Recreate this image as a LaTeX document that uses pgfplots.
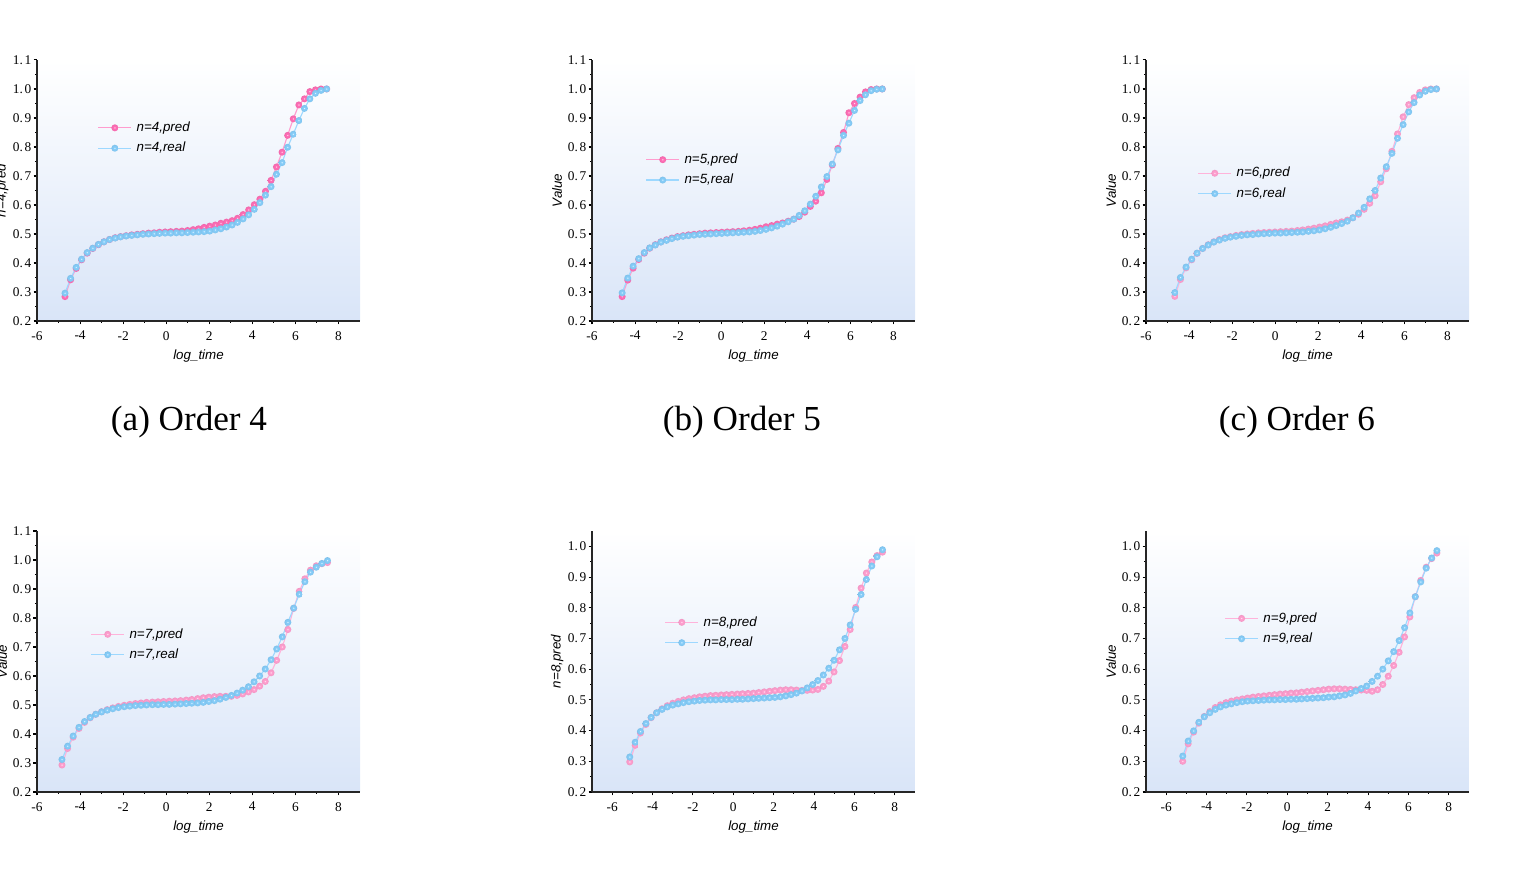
\documentclass[border=0pt]{standalone}
\usepackage{fontspec}
\setmainfont{Liberation Serif}
\newfontfamily\lsans{Liberation Sans}
\usepackage{pgfplots}
\usepackage{pgfplotstable}
\pgfplotsset{compat=1.18}
\definecolor{pinkA}{HTML}{FF6EB6}
\definecolor{pinkAl}{HTML}{FF9CCE}
\definecolor{pinkB}{HTML}{FF9FCF}
\definecolor{pinkBl}{HTML}{FFB3DA}
\definecolor{blueM}{HTML}{86CDF9}
\definecolor{blueL}{HTML}{9DD8FF}
\definecolor{bgblue}{HTML}{D9E5F8}

\newcommand\declball[2]{%
 \pgfdeclareradialshading{sh#1}{\pgfpoint{-3bp}{3bp}}{color(0bp)=(#2!20!white); color(2.5bp)=(#2!50!white); color(7bp)=(#2); color(20bp)=(#2!97!black); color(25bp)=(#2!93!black); color(50bp)=(#2!93!black)}%
 \pgfdeclareplotmark{#1}{\pgfpathcircle{\pgfpointorigin}{\pgfplotmarksize}\pgfshadepath{sh#1}{0}\pgfusepath{}}}
\declball{bpA}{pinkA}
\declball{bpB}{pinkB}
\declball{bbl}{blueM}

\newcommand\labfont{\lsans\itshape\fontsize{3.8}{4.5}\selectfont}

\pgfplotsset{
  panel/.style={
    scale only axis, width=32.3mm, height=26.1mm,
    anchor=south west,
    axis x line*=bottom, axis y line*=left,
    axis line style={line width=0.3pt, black!85},
    axis background/.style={top color=white, bottom color=bgblue},
    xmin=-6, xmax=9, ymin=0.2, ymax=1.1,
    xtick={-6,-4,-2,0,2,4,6,8}, minor x tick num=1,
    ytick={0.2,0.3,0.4,0.5,0.6,0.7,0.8,0.9,1.0,1.1}, minor y tick num=1,
    tick align=outside, major tick length=0.35mm, minor tick length=0.2mm,
    every tick/.style={line width=0.3pt, black},
    tick label style={font=\fontsize{3.8}{4.4}\selectfont},
    /pgf/number format/assume math mode=true,
    xticklabel style={inner sep=0.6mm},
    yticklabel style={inner sep=0.15mm, /pgf/number format/fixed, /pgf/number format/fixed zerofill, /pgf/number format/precision=1, /pgf/number format/dec sep={.\hspace{0.5pt}}},
    xlabel={log\_time},
    xlabel style={font=\labfont, at={(axis description cs:0.5,-0.134)}, anchor=center},
    ylabel={Value},
    ylabel style={font=\labfont, at={(axis description cs:-0.108,0.5)}, anchor=center},
    legend style={draw=none, fill=none, anchor=west, font=\labfont, inner sep=0pt, row sep=1.1pt, column sep=0.3mm,
      nodes={inner sep=0.5pt, text height=2.9pt, text depth=0.8pt}},
    legend cell align=left,
    legend image code/.code={\draw[mark repeat=2,mark phase=2,##1] plot coordinates {(0mm,0mm) (1.65mm,0mm) (3.3mm,0mm)};},
  },
  bottomrow/.style={xmin=-7, ymax=1.05, ytick={0.2,0.3,0.4,0.5,0.6,0.7,0.8,0.9,1.0}},
  predA/.style={color=pinkAl, line width=0.32pt, mark=bpA, mark size=1.0pt},
  predB/.style={color=pinkBl, line width=0.32pt, mark=bpB, mark size=1.0pt},
  real/.style={color=blueL, line width=0.32pt, mark=bbl, mark size=1.0pt},
}

\pgfplotstableread{
x pred real
-4.70 0.284 0.296
-4.44 0.342 0.347
-4.18 0.381 0.385
-3.93 0.411 0.413
-3.67 0.434 0.436
-3.41 0.450 0.451
-3.15 0.463 0.464
-2.89 0.473 0.473
-2.63 0.481 0.481
-2.37 0.487 0.486
-2.12 0.491 0.490
-1.86 0.494 0.493
-1.60 0.497 0.495
-1.34 0.499 0.497
-1.08 0.501 0.499
-0.82 0.503 0.500
-0.56 0.504 0.501
-0.31 0.506 0.502
-0.05 0.507 0.503
0.21 0.508 0.503
0.47 0.509 0.504
0.73 0.510 0.504
0.99 0.512 0.505
1.25 0.515 0.506
1.50 0.518 0.507
1.76 0.523 0.508
2.02 0.527 0.510
2.28 0.531 0.514
2.54 0.537 0.518
2.80 0.541 0.524
3.06 0.546 0.531
3.31 0.554 0.540
3.57 0.567 0.552
3.83 0.583 0.566
4.09 0.601 0.585
4.35 0.620 0.608
4.61 0.647 0.634
4.87 0.685 0.663
5.12 0.731 0.706
5.38 0.782 0.746
5.64 0.840 0.799
5.90 0.897 0.844
6.16 0.945 0.891
6.42 0.966 0.933
6.67 0.991 0.966
6.93 0.997 0.985
7.19 1.000 0.995
7.45 1.000 1.000
}\tabA

\pgfplotstableread{
x pred real
-4.60 0.284 0.297
-4.34 0.341 0.348
-4.09 0.382 0.389
-3.83 0.412 0.415
-3.57 0.434 0.436
-3.32 0.451 0.452
-3.06 0.463 0.462
-2.80 0.473 0.472
-2.54 0.480 0.478
-2.29 0.486 0.484
-2.03 0.491 0.489
-1.77 0.494 0.492
-1.52 0.497 0.494
-1.26 0.499 0.496
-1.00 0.501 0.498
-0.75 0.503 0.499
-0.49 0.504 0.500
-0.23 0.505 0.501
0.03 0.506 0.502
0.28 0.507 0.503
0.54 0.508 0.504
0.80 0.509 0.505
1.05 0.511 0.506
1.31 0.513 0.507
1.57 0.516 0.509
1.82 0.520 0.512
2.08 0.525 0.516
2.34 0.529 0.521
2.60 0.534 0.527
2.85 0.538 0.534
3.11 0.544 0.542
3.37 0.551 0.551
3.62 0.560 0.564
3.88 0.575 0.580
4.14 0.595 0.603
4.39 0.613 0.630
4.65 0.642 0.662
4.91 0.688 0.698
5.16 0.738 0.741
5.42 0.795 0.790
5.68 0.850 0.840
5.93 0.918 0.882
6.19 0.950 0.926
6.45 0.972 0.960
6.70 0.990 0.980
6.96 0.998 0.994
7.22 1.000 0.999
7.48 1.000 1.000
}\tabB

\pgfplotstableread{
x pred real
-4.66 0.285 0.298
-4.40 0.343 0.350
-4.14 0.383 0.386
-3.88 0.411 0.413
-3.63 0.433 0.434
-3.37 0.450 0.450
-3.11 0.463 0.462
-2.85 0.473 0.472
-2.59 0.481 0.479
-2.33 0.487 0.485
-2.08 0.491 0.489
-1.82 0.495 0.492
-1.56 0.498 0.495
-1.30 0.500 0.497
-1.04 0.502 0.498
-0.78 0.504 0.500
-0.52 0.505 0.501
-0.27 0.506 0.502
-0.01 0.507 0.503
0.25 0.508 0.503
0.51 0.509 0.504
0.77 0.510 0.505
1.03 0.512 0.506
1.28 0.514 0.507
1.54 0.517 0.509
1.80 0.520 0.511
2.06 0.524 0.514
2.32 0.528 0.518
2.58 0.533 0.523
2.83 0.538 0.529
3.09 0.542 0.536
3.35 0.548 0.544
3.61 0.556 0.556
3.87 0.568 0.572
4.13 0.585 0.592
4.39 0.606 0.621
4.64 0.632 0.650
4.90 0.680 0.693
5.16 0.725 0.732
5.42 0.785 0.778
5.68 0.845 0.830
5.94 0.904 0.877
6.20 0.946 0.921
6.45 0.970 0.953
6.71 0.988 0.979
6.97 0.997 0.992
7.23 1.000 0.998
7.49 1.000 1.000
}\tabC

\pgfplotstableread{
x pred real
-4.84 0.293 0.312
-4.58 0.350 0.358
-4.32 0.389 0.393
-4.05 0.419 0.423
-3.79 0.440 0.443
-3.53 0.456 0.457
-3.27 0.468 0.468
-3.00 0.477 0.476
-2.74 0.484 0.482
-2.48 0.490 0.487
-2.22 0.495 0.491
-1.95 0.499 0.494
-1.69 0.502 0.496
-1.43 0.505 0.498
-1.17 0.507 0.499
-0.91 0.509 0.500
-0.64 0.510 0.501
-0.38 0.511 0.501
-0.12 0.512 0.502
0.14 0.513 0.502
0.41 0.514 0.503
0.67 0.515 0.504
0.93 0.517 0.505
1.19 0.519 0.506
1.46 0.522 0.507
1.72 0.525 0.509
1.98 0.527 0.512
2.24 0.529 0.515
2.50 0.530 0.520
2.77 0.530 0.526
3.03 0.530 0.533
3.29 0.533 0.541
3.55 0.538 0.551
3.82 0.545 0.563
4.08 0.553 0.580
4.34 0.565 0.600
4.60 0.581 0.624
4.87 0.611 0.656
5.13 0.654 0.693
5.39 0.700 0.735
5.65 0.760 0.785
5.92 0.833 0.834
6.18 0.892 0.882
6.44 0.935 0.925
6.70 0.965 0.958
6.97 0.980 0.975
7.23 0.987 0.988
7.49 0.991 0.998
}\tabD

\pgfplotstableread{
x pred real
-5.13 0.298 0.314
-4.86 0.352 0.362
-4.60 0.392 0.397
-4.33 0.420 0.423
-4.07 0.442 0.443
-3.80 0.458 0.458
-3.53 0.471 0.469
-3.27 0.481 0.477
-3.00 0.489 0.483
-2.73 0.495 0.487
-2.47 0.500 0.491
-2.20 0.504 0.494
-1.93 0.507 0.496
-1.67 0.510 0.498
-1.40 0.512 0.499
-1.13 0.514 0.500
-0.87 0.515 0.500
-0.60 0.516 0.501
-0.34 0.517 0.501
-0.07 0.518 0.501
0.20 0.519 0.502
0.46 0.520 0.502
0.73 0.521 0.503
1.00 0.522 0.504
1.26 0.524 0.505
1.53 0.526 0.506
1.80 0.528 0.507
2.06 0.530 0.508
2.33 0.532 0.510
2.60 0.533 0.513
2.86 0.533 0.517
3.13 0.532 0.522
3.40 0.531 0.529
3.66 0.531 0.539
3.93 0.532 0.550
4.19 0.534 0.563
4.46 0.544 0.581
4.73 0.561 0.603
4.99 0.591 0.629
5.26 0.628 0.663
5.53 0.674 0.700
5.79 0.729 0.744
6.06 0.801 0.795
6.33 0.864 0.843
6.59 0.913 0.892
6.86 0.949 0.936
7.12 0.970 0.966
7.39 0.981 0.989
}\tabE

\pgfplotstableread{
x pred real
-5.18 0.300 0.317
-4.91 0.357 0.366
-4.64 0.395 0.399
-4.38 0.424 0.427
-4.11 0.446 0.445
-3.84 0.462 0.458
-3.57 0.475 0.469
-3.31 0.484 0.477
-3.04 0.491 0.483
-2.77 0.496 0.487
-2.50 0.500 0.491
-2.23 0.503 0.494
-1.97 0.506 0.496
-1.70 0.509 0.497
-1.43 0.511 0.498
-1.16 0.513 0.499
-0.89 0.515 0.500
-0.63 0.517 0.500
-0.36 0.519 0.501
-0.09 0.520 0.501
0.18 0.522 0.502
0.45 0.523 0.502
0.71 0.525 0.503
0.98 0.527 0.504
1.25 0.529 0.505
1.52 0.531 0.506
1.79 0.533 0.507
2.05 0.535 0.509
2.32 0.536 0.510
2.59 0.536 0.513
2.86 0.535 0.516
3.13 0.534 0.521
3.39 0.533 0.529
3.66 0.532 0.537
3.93 0.531 0.545
4.20 0.528 0.560
4.47 0.533 0.577
4.73 0.550 0.600
5.00 0.577 0.627
5.27 0.612 0.657
5.54 0.655 0.693
5.81 0.705 0.735
6.07 0.770 0.783
6.34 0.836 0.836
6.61 0.889 0.884
6.88 0.932 0.929
7.15 0.960 0.962
7.41 0.978 0.986
}\tabF

\begin{document}
\begin{tikzpicture}
\useasboundingbox (0,0) rectangle (154mm,88mm);

% (a)
\begin{axis}[panel, at={(3.7mm,55.9mm)}, ylabel={n=4,pred},
  legend style={at={(axis description cs:0.186,0.701)}}]
\addplot[predA] table[x=x,y=pred]{\tabA};
\addlegendentry{n=4,pred}
\addplot[real] table[x=x,y=real]{\tabA};
\addlegendentry{n=4,real}
\end{axis}

% (b)
\begin{axis}[panel, at={(59.2mm,55.9mm)},
  legend style={at={(axis description cs:0.164,0.579)}}]
\addplot[predA] table[x=x,y=pred]{\tabB};
\addlegendentry{n=5,pred}
\addplot[real] table[x=x,y=real]{\tabB};
\addlegendentry{n=5,real}
\end{axis}

% (c)
\begin{axis}[panel, at={(114.6mm,55.9mm)},
  legend style={at={(axis description cs:0.158,0.527)}}]
\addplot[predB] table[x=x,y=pred]{\tabC};
\addlegendentry{n=6,pred}
\addplot[real] table[x=x,y=real]{\tabC};
\addlegendentry{n=6,real}
\end{axis}

% (d)
\begin{axis}[panel, at={(3.7mm,8.8mm)},
  legend style={at={(axis description cs:0.164,0.565)}}]
\addplot[predB] table[x=x,y=pred]{\tabD};
\addlegendentry{n=7,pred}
\addplot[real] table[x=x,y=real]{\tabD};
\addlegendentry{n=7,real}
\end{axis}

% (e)
\begin{axis}[panel, bottomrow, at={(59.2mm,8.8mm)}, ylabel={n=8,pred},
  legend style={at={(axis description cs:0.223,0.611)}}]
\addplot[predB] table[x=x,y=pred]{\tabE};
\addlegendentry{n=8,pred}
\addplot[real] table[x=x,y=real]{\tabE};
\addlegendentry{n=8,real}
\end{axis}

% (f)
\begin{axis}[panel, bottomrow, at={(114.6mm,8.8mm)},
  legend style={at={(axis description cs:0.241,0.626)}}]
\addplot[predB] table[x=x,y=pred]{\tabF};
\addlegendentry{n=9,pred}
\addplot[real] table[x=x,y=real]{\tabF};
\addlegendentry{n=9,real}
\end{axis}

\node[font=\fontsize{10}{12}\selectfont, anchor=center] at (18.9mm,45.8mm) {(a) Order 4};
\node[font=\fontsize{10}{12}\selectfont, anchor=center] at (74.2mm,45.8mm) {(b) Order 5};
\node[font=\fontsize{10}{12}\selectfont, anchor=center] at (129.7mm,45.8mm) {(c) Order 6};
\end{tikzpicture}
\end{document}
